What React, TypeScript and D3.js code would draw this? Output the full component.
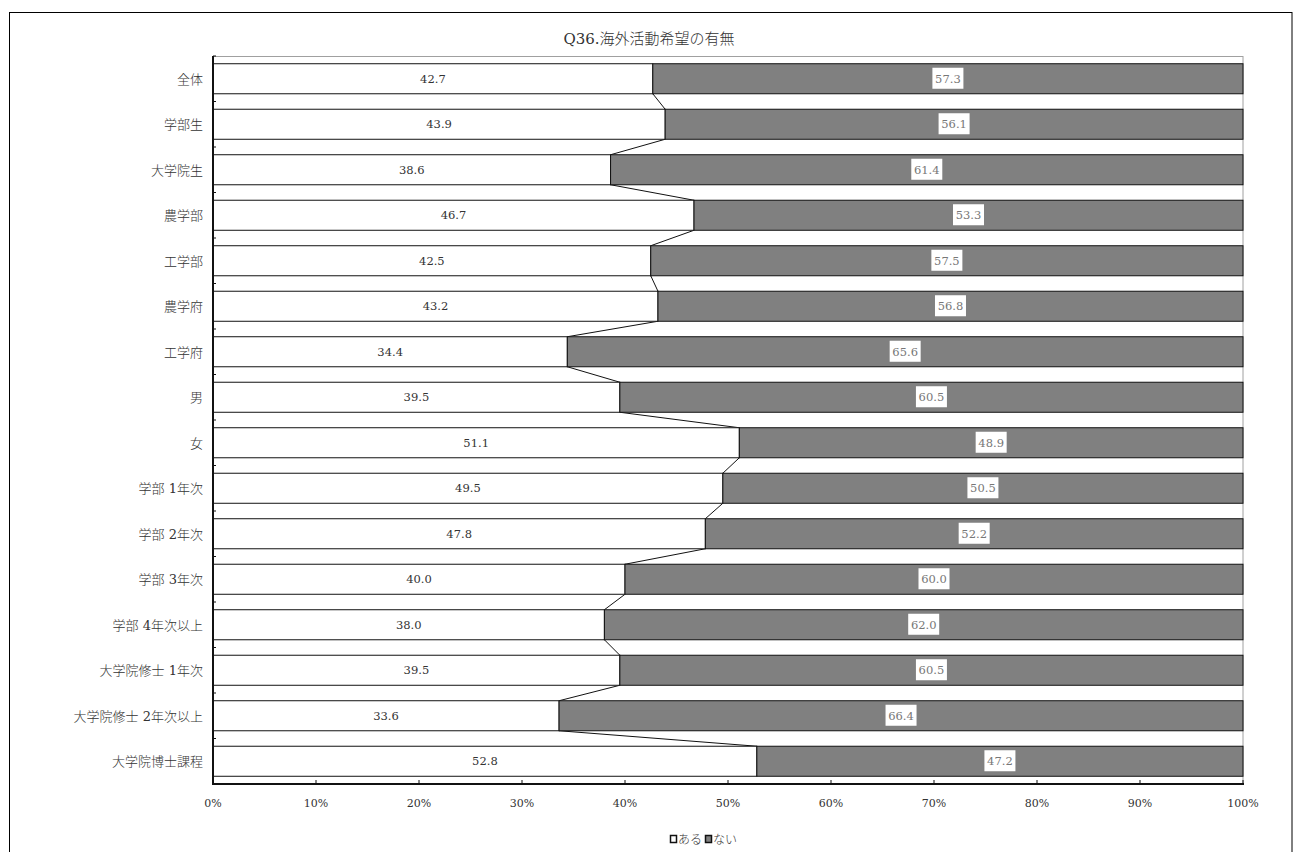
import React from "react";
import * as d3 from "d3";

const categories = [
  "全体", "学部生", "大学院生", "農学部", "工学部", "農学府", "工学府", "男", "女",
  "学部 1年次", "学部 2年次", "学部 3年次", "学部 4年次以上", "大学院修士 1年次",
  "大学院修士 2年次以上", "大学院博士課程",
];
const aruValues = [42.7, 43.9, 38.6, 46.7, 42.5, 43.2, 34.4, 39.5, 51.1, 49.5, 47.8, 40.0, 38.0, 39.5, 33.6, 52.8];
const naiValues = [57.3, 56.1, 61.4, 53.3, 57.5, 56.8, 65.6, 60.5, 48.9, 50.5, 52.2, 60.0, 62.0, 60.5, 66.4, 47.2];
const xTicks = [0, 10, 20, 30, 40, 50, 60, 70, 80, 90, 100];
const seriesNames = ["ある", "ない"];
const title = "Q36.海外活動希望の有無";

const W = 1293, H = 852;
const left = 213, right = 1243, top = 56, bottom = 784;
const FONT = "'DejaVu Serif', 'Liberation Serif', 'Noto Sans CJK JP', serif";
const CJK = "'DejaVu Serif', 'Noto Sans CJK JP', serif";

export default function App() {
  const x = d3.scaleLinear().domain([0, 100]).range([left, right]);
  const y = d3.scaleBand<string>().domain(categories).range([top, bottom]).paddingInner(0.34).paddingOuter(0.17);
  const bh = y.bandwidth();
  const band = (bottom - top) / categories.length;

  const connectors = aruValues.slice(0, -1).map((v, i) => {
    const n = aruValues[i + 1];
    return { x1: x(v), y1: (y(categories[i]) as number) + bh, x2: x(n), y2: y(categories[i + 1]) as number };
  });

  return (
    <svg width={W} height={H} style={{ position: "absolute", left: 0, top: 0, background: "#fff" }}>
      <rect x={9.5} y={12.5} width={1282.5} height={H} fill="#fff" stroke="#000" strokeWidth={1} />
      <text x={649} y={44} textAnchor="middle" fontFamily={CJK} fontSize={15} fontWeight={300} fill="#333">{title}</text>
      <rect x={left} y={top + 0.5} width={right - left} height={bottom - top} fill="none" stroke="#a0a0a0" strokeWidth={1} />
      {connectors.map((c, i) => (
        <line key={"c" + i} x1={c.x1} y1={c.y1} x2={c.x2} y2={c.y2} stroke="#111" strokeWidth={1} />
      ))}
      {categories.map((cat, i) => {
        const yy = y(cat) as number;
        const a = aruValues[i];
        const b = naiValues[i];
        const labelB = b.toFixed(1);
        const cxB = (x(a) + x(a + b)) / 2;
        const cxA = (x(0) + x(a)) / 2;
        const tw = 31;
        return (
          <g key={cat}>
            <rect x={x(0)} y={yy} width={x(a) - x(0)} height={bh} fill="#fff" stroke="#111" strokeWidth={1} />
            <rect x={x(a)} y={yy} width={x(a + b) - x(a)} height={bh} fill="#808080" stroke="#111" strokeWidth={1} />
            <text x={cxA} y={yy + bh / 2 + 4} textAnchor="middle" fontFamily={FONT} fontSize={11.5} fill="#333">{a.toFixed(1)}</text>
            <rect x={cxB - tw / 2} y={yy + bh / 2 - 11} width={tw} height={21} fill="#fff" />
            <text x={cxB} y={yy + bh / 2 + 4} textAnchor="middle" fontFamily={FONT} fontSize={11.5} fill="#777">{labelB}</text>
            <text x={203} y={yy + bh / 2 + 5} textAnchor="end" fontFamily={CJK} fontSize={13} fontWeight={300} fill="#333">{cat}</text>
          </g>
        );
      })}
      {d3.range(categories.length + 1).map((k) => (
        <line key={"yt" + k} x1={left} x2={left + 3} y1={top + k * band} y2={top + k * band} stroke="#111" strokeWidth={1} />
      ))}
      <line x1={left} x2={left} y1={top} y2={bottom} stroke="#111" strokeWidth={2} />
      <line x1={left - 1} x2={right + 1} y1={bottom} y2={bottom} stroke="#111" strokeWidth={2} />
      {xTicks.map((t) => (
        <g key={"xt" + t}>
          <line x1={x(t)} x2={x(t)} y1={bottom} y2={bottom - 4} stroke="#111" strokeWidth={1} />
          <text x={x(t)} y={807} textAnchor="middle" fontFamily={FONT} fontSize={11} fill="#333">{t + "%"}</text>
        </g>
      ))}
      <g>
        <rect x={670.5} y={835.5} width={6} height={7} fill="#fff" stroke="#111" strokeWidth={1.5} />
        <text x={678} y={844} fontFamily={CJK} fontSize={12} fontWeight={300} fill="#333">{seriesNames[0]}</text>
        <rect x={705.5} y={835.5} width={6} height={7} fill="#808080" stroke="#111" strokeWidth={1.5} />
        <text x={713} y={844} fontFamily={CJK} fontSize={12} fontWeight={300} fill="#333">{seriesNames[1]}</text>
      </g>
    </svg>
  );
}
